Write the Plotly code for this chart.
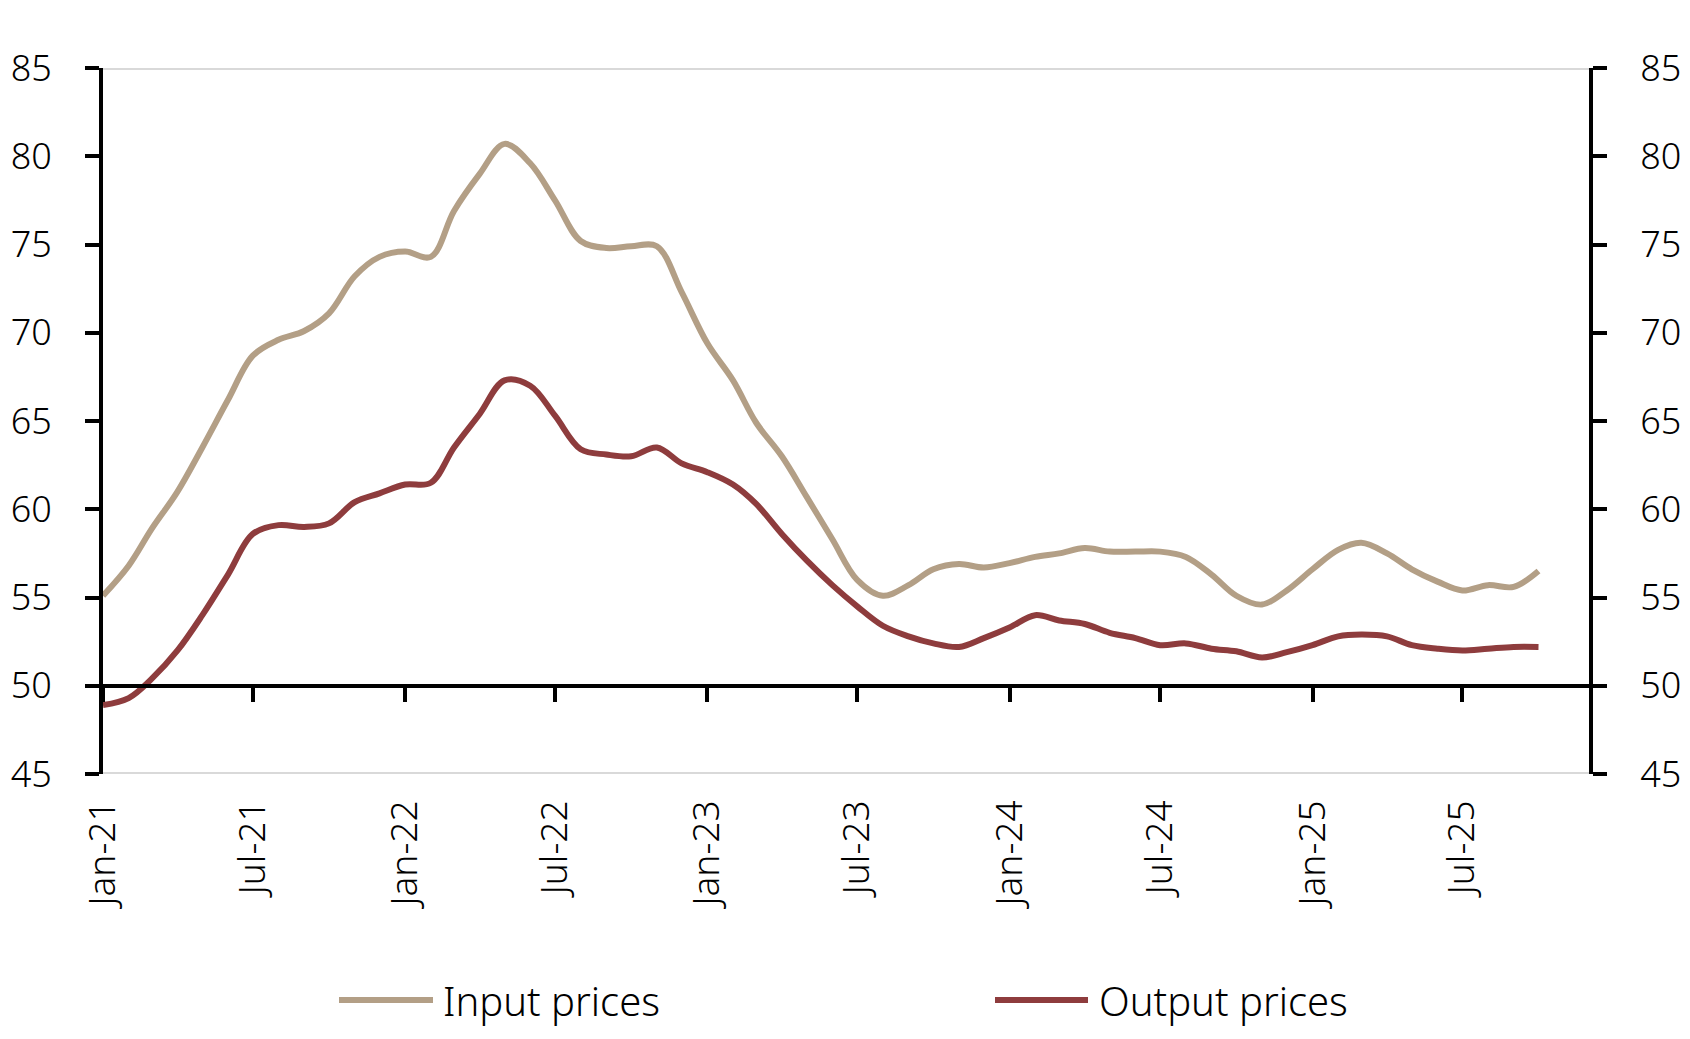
import plotly.graph_objects as go
import pandas as pd

dates = pd.date_range("2021-01-01", "2025-10-01", freq="MS").strftime("%Y-%m-%d").tolist()

input_prices = [55.1, 56.8, 58.9, 61.0, 63.5, 66.2, 68.7, 69.6, 70.1, 71.1, 73.2, 74.3,
                74.6, 74.3, 76.9, 79.0, 80.7, 79.6, 77.5, 75.2, 74.8, 74.9, 74.9, 72.3,
                69.4, 67.3, 64.9, 63.0, 60.7, 58.3, 56.0, 55.1, 55.7, 56.6, 56.9, 56.7,
                56.95, 57.3, 57.5, 57.8, 57.6, 57.6, 57.6, 57.3, 56.3, 55.1, 54.6, 55.4,
                56.6, 57.7, 58.1, 57.5, 56.6, 55.9, 55.4, 55.7, 55.6, 56.5]

output_prices = [48.9, 49.3, 50.4, 52.0, 54.0, 56.3, 58.6, 59.1, 59.0, 59.2, 60.4, 60.9,
                 61.4, 61.5, 63.5, 65.4, 67.3, 67.0, 65.3, 63.4, 63.1, 63.0, 63.5, 62.6,
                 62.1, 61.4, 60.3, 58.6, 57.1, 55.7, 54.5, 53.4, 52.8, 52.4, 52.2, 52.7,
                 53.3, 54.0, 53.7, 53.5, 53.0, 52.7, 52.3, 52.4, 52.1, 51.95, 51.6, 51.9,
                 52.3, 52.8, 52.9, 52.8, 52.3, 52.1, 52.0, 52.1, 52.2, 52.2]

series_names = ["Input prices", "Output prices"]
colors = ["#B39F86", "#8E3C3D"]

y_ticks = [45, 50, 55, 60, 65, 70, 75, 80, 85]
x_range = ["2021-01-01", "2025-12-01"]
y_range = [45, 85]

FONT = "Noto Sans, Lato, Open Sans, sans-serif"
LINE_W = 6

W, H = 1690, 1039
ML, MR, MT, MB = 103, 101, 68, 265

fig = go.Figure()
fig.add_trace(go.Scatter(x=dates, y=input_prices, name=series_names[0], mode="lines",
                         line=dict(color=colors[0], width=LINE_W, shape="spline", smoothing=1.0),
                         xaxis="x", yaxis="y", showlegend=False))
fig.add_trace(go.Scatter(x=dates, y=output_prices, name=series_names[1], mode="lines",
                         line=dict(color=colors[1], width=LINE_W, shape="spline", smoothing=1.0),
                         xaxis="x2", yaxis="y2", showlegend=False))

y_font = dict(family=FONT, size=36, color="#000000", weight=300)
x_font = dict(family=FONT, size=37, color="#000000", weight=300)


def px_x(p):
    return (p - ML) / (W - ML - MR)


def px_y(p):
    return (H - MB - p) / (H - MT - MB)


legend_y = px_y(1000)
legend_items = [(339, 433, 441), (995, 1088, 1097)]
shapes = [
    dict(type="line", xref="paper", yref="y", x0=0, x1=1, y0=85, y1=85,
         line=dict(color="#D9D9D9", width=4), layer="below"),
    dict(type="line", xref="paper", yref="y", x0=0, x1=1, y0=45, y1=45,
         line=dict(color="#D9D9D9", width=4), layer="below"),
]
annotations = []
for (lx0, lx1, tx), name, col in zip(legend_items, series_names, colors):
    shapes.append(dict(type="line", xref="paper", yref="paper",
                       x0=px_x(lx0), x1=px_x(lx1), y0=legend_y, y1=legend_y,
                       line=dict(color=col, width=LINE_W)))
    annotations.append(dict(text=name, xref="paper", yref="paper", x=px_x(tx), y=legend_y,
                            xanchor="left", yanchor="middle", showarrow=False,
                            font=dict(family=FONT, size=40, color="#000000", weight=300)))

fig.update_layout(
    width=W, height=H,
    margin=dict(l=ML, r=MR, t=MT, b=MB, pad=0),
    paper_bgcolor="white", plot_bgcolor="white",
    font=y_font,
    showlegend=False,
    xaxis=dict(type="date", range=x_range, anchor="free", position=(50 - 45) / 40,
               showline=True, linecolor="black", linewidth=4,
               ticks="outside", ticklen=14, tickwidth=4, tickcolor="black",
               dtick="M6", tick0="2021-01-01", showticklabels=False,
               showgrid=False, zeroline=False, automargin=False),
    xaxis2=dict(type="date", overlaying="x", matches="x", anchor="y", side="bottom",
                showline=False, ticks="", showgrid=False, zeroline=False,
                dtick="M6", tick0="2021-01-01", tickformat="%b-%y", tickangle=-90,
                ticklabelstandoff=18, tickfont=x_font, automargin=False),
    yaxis=dict(range=y_range, tickvals=y_ticks, showline=True, linecolor="black", linewidth=4,
               ticks="outside", ticklen=14, tickwidth=4, tickcolor="black",
               showgrid=False, zeroline=False, ticklabelstandoff=26, tickfont=y_font,
               automargin=False),
    yaxis2=dict(range=y_range, overlaying="y", matches="y", side="right", anchor="x",
                tickvals=y_ticks, showline=True, linecolor="black", linewidth=4,
                ticks="outside", ticklen=14, tickwidth=4, tickcolor="black",
                showgrid=False, zeroline=False, ticklabelstandoff=26, tickfont=y_font,
                automargin=False),
    shapes=shapes,
    annotations=annotations,
)

fig.write_html("out.html")
